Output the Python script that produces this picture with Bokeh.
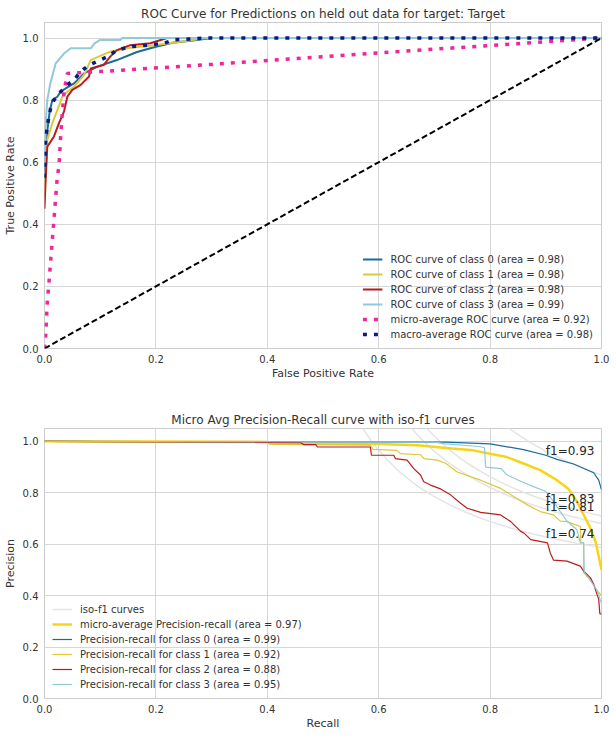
import numpy as np
from bokeh.plotting import figure
from bokeh.layouts import column
from bokeh.models import Range1d, Legend, LegendItem, Label, PrintfTickFormatter, FixedTicker
from bokeh.embed import file_html
from bokeh.resources import INLINE

FONT = "DejaVu Sans"
TXT = "#333333"

# ---------------- ROC data (fpr, tpr) ----------------
roc_labels = ["ROC curve of class 0 (area = 0.98)", "ROC curve of class 1 (area = 0.98)",
              "ROC curve of class 2 (area = 0.98)", "ROC curve of class 3 (area = 0.99)"]
roc0_fpr = [0, 0.002, 0.005, 0.009, 0.014, 0.023, 0.029, 0.038, 0.053, 0.071, 0.095, 0.13, 0.166, 0.2, 0.23, 0.27, 0.3, 1.0]
roc0_tpr = [0.55, 0.62, 0.70, 0.76, 0.80, 0.811, 0.827, 0.838, 0.854, 0.886, 0.908, 0.929, 0.955, 0.972, 0.985, 0.993, 1.0, 1.0]
roc1_fpr = [0, 0.003, 0.005, 0.014, 0.023, 0.032, 0.041, 0.053, 0.071, 0.083, 0.097, 0.118, 0.15, 0.19, 0.23, 0.26, 0.29, 1.0]
roc1_tpr = [0.5, 0.6, 0.672, 0.726, 0.768, 0.811, 0.827, 0.843, 0.881, 0.929, 0.94, 0.956, 0.968, 0.975, 0.985, 0.992, 1.0, 1.0]
roc2_fpr = [0, 0.002, 0.005, 0.017, 0.026, 0.035, 0.041, 0.05, 0.065, 0.08, 0.083, 0.106, 0.118, 0.13, 0.154, 0.19, 0.22, 1.0]
roc2_tpr = [0.45, 0.543, 0.65, 0.683, 0.726, 0.763, 0.811, 0.833, 0.849, 0.876, 0.902, 0.913, 0.94, 0.961, 0.977, 0.983, 1.0, 1.0]
roc3_fpr = [0, 0.003, 0.005, 0.01, 0.02, 0.035, 0.047, 0.083, 0.09, 0.1, 0.136, 0.14, 1.0]
roc3_tpr = [0.6, 0.75, 0.8, 0.85, 0.918, 0.95, 0.967, 0.967, 0.983, 0.994, 0.994, 1.0, 1.0]
micro_fpr = [0, 0.002, 0.005, 0.008, 0.011, 0.014, 0.017, 0.02, 0.023, 0.026, 0.029, 0.032, 0.035, 0.041, 0.1, 0.3, 0.5, 0.7, 0.9, 1.0]
micro_tpr = [0, 0.04, 0.148, 0.212, 0.281, 0.35, 0.415, 0.485, 0.554, 0.586, 0.683, 0.758, 0.827, 0.886, 0.892, 0.915, 0.94, 0.964, 0.988, 1.0]
macro_fpr = [0, 0.002, 0.005, 0.008, 0.011, 0.017, 0.029, 0.041, 0.053, 0.065, 0.08, 0.095, 0.113, 0.13, 0.154, 0.184, 0.214, 0.232, 0.292, 1.0]
macro_tpr = [0.55, 0.672, 0.715, 0.747, 0.774, 0.8, 0.827, 0.849, 0.865, 0.892, 0.913, 0.925, 0.94, 0.961, 0.972, 0.977, 0.983, 0.994, 1.0, 1.0]
diag = [0, 1]

# ---------------- Precision-recall data (recall, precision) ----------------
pr_labels = ["Precision-recall for class 0 (area = 0.99)", "Precision-recall for class 1 (area = 0.92)",
             "Precision-recall for class 2 (area = 0.88)", "Precision-recall for class 3 (area = 0.95)"]
pr_micro_rec = [0, 0.4, 0.41, 0.6, 0.67, 0.72, 0.77, 0.8, 0.83, 0.86, 0.89, 0.92, 0.94, 0.956, 0.968, 0.98, 0.99, 1.0]
pr_micro_prec = [1.0, 0.997, 0.993, 0.99, 0.985, 0.974, 0.965, 0.952, 0.939, 0.914, 0.888, 0.849, 0.817, 0.766, 0.714, 0.663, 0.605, 0.50]
pr0_rec = [0, 0.72, 0.80, 0.86, 0.90, 0.92, 0.95, 0.986, 0.995, 1.0]
pr0_prec = [1.0, 0.997, 0.99, 0.968, 0.946, 0.93, 0.912, 0.878, 0.849, 0.811]
pr1_rec = [0, 0.40, 0.405, 0.585, 0.59, 0.633, 0.639, 0.675, 0.681, 0.705, 0.72, 0.741, 0.783, 0.819, 0.843, 0.867, 0.89, 0.914, 0.926, 0.938, 0.962, 0.963, 0.968, 0.968, 0.98, 0.992, 1.0]
pr1_prec = [1.0, 1.0, 0.988, 0.985, 0.969, 0.965, 0.952, 0.948, 0.933, 0.927, 0.915, 0.881, 0.849, 0.817, 0.785, 0.753, 0.727, 0.714, 0.69, 0.688, 0.669, 0.606, 0.606, 0.49, 0.46, 0.42, 0.40]
pr2_rec = [0, 0.46, 0.466, 0.487, 0.49, 0.585, 0.587, 0.627, 0.63, 0.651, 0.663, 0.675, 0.681, 0.693, 0.711, 0.729, 0.747, 0.759, 0.783, 0.819, 0.837, 0.855, 0.861, 0.873, 0.903, 0.908, 0.914, 0.938, 0.962, 0.968, 0.98, 0.986, 0.992, 0.995, 0.997, 1.0]
pr2_prec = [1.0, 0.995, 0.987, 0.987, 0.978, 0.978, 0.946, 0.946, 0.933, 0.927, 0.894, 0.869, 0.843, 0.83, 0.815, 0.792, 0.759, 0.74, 0.724, 0.714, 0.688, 0.65, 0.643, 0.618, 0.605, 0.566, 0.538, 0.534, 0.515, 0.495, 0.47, 0.444, 0.405, 0.386, 0.33, 0.328]
pr3_rec = [0, 0.7, 0.72, 0.78, 0.79, 0.792, 0.82, 0.83, 0.855, 0.878, 0.9, 0.914, 0.926, 0.938, 0.956, 0.962, 0.968, 0.969, 0.98, 0.992, 1.0]
pr3_prec = [1.0, 0.997, 0.99, 0.98, 0.975, 0.9, 0.894, 0.87, 0.845, 0.824, 0.805, 0.766, 0.727, 0.69, 0.656, 0.605, 0.605, 0.49, 0.46, 0.42, 0.37]
f1_values = [0.74, 0.81, 0.83, 0.93]

class_colors = ["#1a6a9a", "#dcc83a", "#b81d1d", "#90cad9"]
ticks = [0, 0.2, 0.4, 0.6, 0.8, 1.0]


def style(p, xlabel, ylabel):
    p.title.text_font = FONT
    p.title.text_font_size = "12px"
    p.title.text_font_style = "normal"
    p.title.text_color = TXT
    p.title.align = "center"
    p.title.standoff = 3
    p.background_fill_color = "white"
    p.border_fill_color = "white"
    p.outline_line_color = "#cccccc"
    p.outline_line_width = 1
    for ax, lab, lstand in ((p.xaxis[0], xlabel, 1), (p.yaxis[0], ylabel, 3)):
        ax.axis_label = lab
        ax.axis_label_text_font = FONT
        ax.axis_label_text_font_size = "11px"
        ax.axis_label_text_font_style = "normal"
        ax.axis_label_text_color = TXT
        ax.major_label_text_font = FONT
        ax.major_label_text_font_size = "10px"
        ax.major_label_text_color = TXT
        ax.axis_line_color = None
        ax.major_tick_line_color = None
        ax.minor_tick_line_color = None
        ax.major_tick_out = 0
        ax.major_tick_in = 0
        ax.minor_tick_out = 0
        ax.minor_tick_in = 0
        ax.ticker = FixedTicker(ticks=ticks)
        ax.formatter = PrintfTickFormatter(format="%.1f")
        ax.major_label_standoff = 6
        ax.axis_label_standoff = lstand
    p.xgrid.grid_line_color = "#d6d6d6"
    p.ygrid.grid_line_color = "#d6d6d6"
    p.xgrid.ticker = FixedTicker(ticks=ticks)
    p.ygrid.ticker = FixedTicker(ticks=ticks)


def make_legend(items, loc):
    lg = Legend(items=items, location=loc)
    lg.label_text_font = FONT
    lg.label_text_font_size = "10px"
    lg.label_text_color = TXT
    lg.glyph_width = 20
    lg.glyph_height = 12
    lg.label_height = 12
    lg.spacing = 3
    lg.padding = 0
    lg.margin = 8
    lg.label_standoff = 8
    lg.background_fill_alpha = 0
    lg.border_line_alpha = 0
    return lg


# ---------------- Figure 1: ROC ----------------
p1 = figure(frame_width=557, frame_height=326, min_border_left=36, min_border_right=10,
            min_border_top=22, min_border_bottom=45,
            x_range=Range1d(0, 1), y_range=Range1d(0, 1.05),
            title="ROC Curve for Predictions on held out data for target: Target",
            output_backend="svg", toolbar_location=None)
style(p1, "False Positive Rate", "True Positive Rate")

items1 = []
for fpr, tpr, col, lab in zip([roc0_fpr, roc1_fpr, roc2_fpr, roc3_fpr],
                              [roc0_tpr, roc1_tpr, roc2_tpr, roc3_tpr], class_colors, roc_labels):
    r = p1.line(fpr, tpr, line_color=col, line_width=2)
    items1.append(LegendItem(label=lab, renderers=[r]))
r = p1.line(micro_fpr, micro_tpr, line_color="#f0269b", line_width=3.5, line_dash="4 7")
items1.append(LegendItem(label="micro-average ROC curve (area = 0.92)", renderers=[r]))
r = p1.line(macro_fpr, macro_tpr, line_color="#0b1a80", line_width=3.5, line_dash="4 7")
items1.append(LegendItem(label="macro-average ROC curve (area = 0.98)", renderers=[r]))
p1.line(diag, diag, line_color="black", line_width=2, line_dash="6 3")
p1.add_layout(make_legend(items1, "bottom_right"))

# ---------------- Figure 2: Precision-Recall ----------------
p2 = figure(frame_width=557, frame_height=270, min_border_left=36, min_border_right=10,
            min_border_top=35, min_border_bottom=30,
            x_range=Range1d(0, 1), y_range=Range1d(0, 1.05),
            title="Micro Avg Precision-Recall curve with iso-f1 curves",
            output_backend="svg", toolbar_location=None)
style(p2, "Recall", "Precision")

items2 = []
xs = np.linspace(0.01, 1, 50)
iso_rs = []
for f in f1_values:
    ys = f * xs / (2 * xs - f)
    m = ys >= 0
    r = p2.line(xs[m], ys[m], line_color="#e4e4e4", line_width=1.5)
    iso_rs.append(r)
    p2.add_layout(Label(x=0.9, y=float(ys[45] + 0.02), text="f1={:0.2f}".format(f),
                        text_font=FONT, text_font_size="12px", text_color="#262626",
                        text_baseline="alphabetic"))
items2.append(LegendItem(label="iso-f1 curves", renderers=[iso_rs[0]]))
r = p2.line(pr_micro_rec, pr_micro_prec, line_color="#f8d418", line_width=2.5)
items2.append(LegendItem(label="micro-average Precision-recall (area = 0.97)", renderers=[r]))
for rec, prec, col, lab in zip([pr0_rec, pr1_rec, pr2_rec, pr3_rec],
                               [pr0_prec, pr1_prec, pr2_prec, pr3_prec], class_colors, pr_labels):
    r = p2.line(rec, prec, line_color=col, line_width=1.2)
    items2.append(LegendItem(label=lab, renderers=[r]))
p2.add_layout(make_legend(items2, "bottom_left"))

layout = column(p1, p2, spacing=0)
open("out.html", "w").write(file_html(layout, INLINE))
